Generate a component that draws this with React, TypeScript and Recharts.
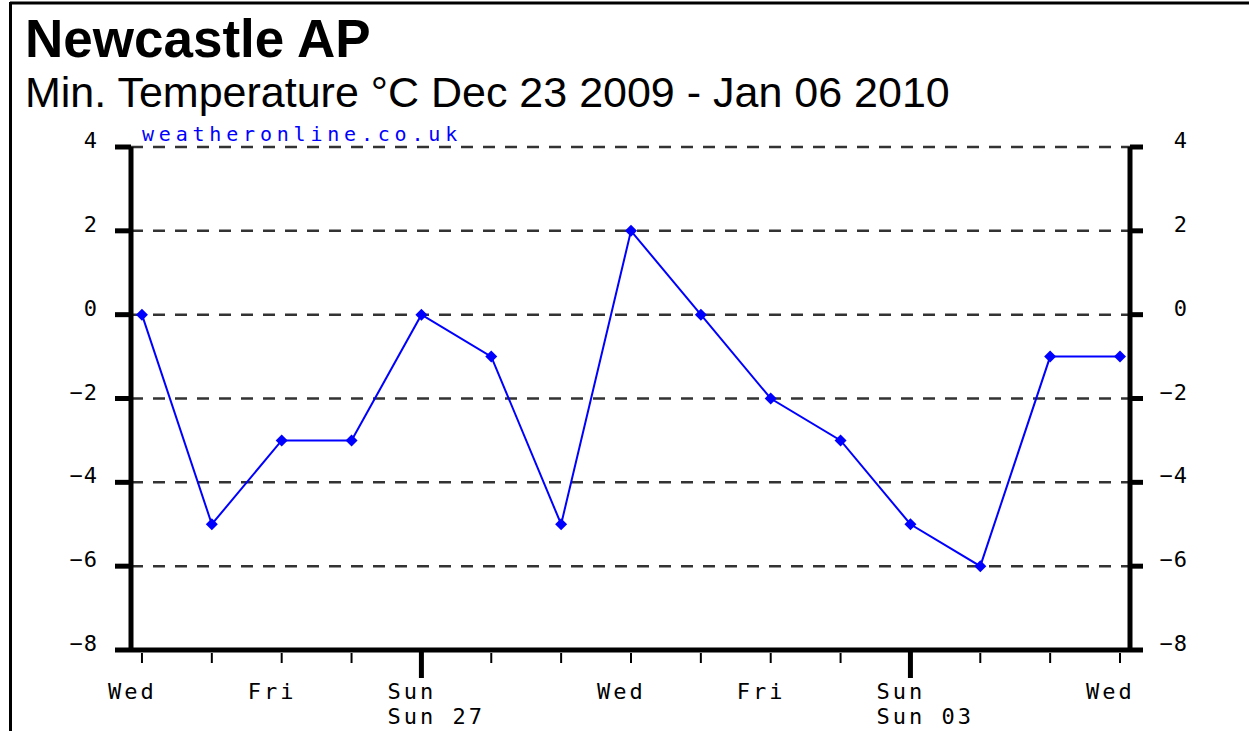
// App.tsx - Newcastle AP min temperature chart
import React from 'react';
import { LineChart, Line, XAxis, YAxis, CartesianGrid } from 'recharts';

// days since Wed Dec 23 2009
const dayNumbers = [0, 1, 2, 3, 4, 5, 6, 7, 8, 9, 10, 11, 12, 13, 14];
const minTemps = [0, -5, -3, -3, 0, -1, -5, 2, 0, -2, -3, -5, -6, -1, -1];

// x axis labels
const labelDays = [0, 2, 4, 7, 9, 11, 14];
const dayLabels = ['Wed', 'Fri', 'Sun', 'Wed', 'Fri', 'Sun', 'Wed'];
const weekDays = [4, 11];
const weekLabels = ['Sun 27', 'Sun 03'];

const tempTicks = [-8, -6, -4, -2, 0, 2, 4];

const data = dayNumbers.map((d, i) => ({ day: d, temp: minTemps[i] }));

const W = 1249;
const H = 731;
const MONO = '"DejaVu Sans Mono", monospace';
const SANS = '"Liberation Sans", Arial, sans-serif';

const fmt = (v: number) => (v < 0 ? `\u2212${-v}` : `${v}`);

// 날짜 tick: 짧은 눈금 + 일요일은 굵은 눈금
const DayTick = ({ x, y, payload }: any) => {
  const d = payload.value;
  const isWeek = weekDays.includes(d);
  const li = labelDays.indexOf(d);
  const wi = weekDays.indexOf(d);
  return (
    <g>
      {isWeek ? (
        <line x1={x} y1={y + 2} x2={x} y2={y + 28} stroke="#000" strokeWidth={5} />
      ) : (
        <line x1={x} y1={y + 3} x2={x} y2={y + 13} stroke="#000" strokeWidth={2} />
      )}
      {li >= 0 && (
        <text x={x - 34} y={y + 49} fontFamily={MONO} fontSize={22} letterSpacing={3} fill="#000">
          {dayLabels[li]}
        </text>
      )}
      {wi >= 0 && (
        <text x={x - 34} y={y + 74} fontFamily={MONO} fontSize={22} letterSpacing={3} fill="#000">
          {weekLabels[wi]}
        </text>
      )}
    </g>
  );
};

const TempTick = ({ x, y, payload }: any) => (
  <text x={x} y={y + 1} textAnchor="end" fontFamily={MONO} fontSize={22} letterSpacing={1} fill="#000">
    {fmt(payload.value)}
  </text>
);

const Diamond = (props: any) => {
  const { cx, cy, index } = props;
  const r = 6;
  return (
    <polygon
      key={`d-${index}`}
      points={`${cx},${cy - r} ${cx + r},${cy} ${cx},${cy + r} ${cx - r},${cy}`}
      fill="#0000ff"
    />
  );
};

export default function App() {
  return (
    <div style={{ position: 'absolute', left: 0, top: 0, width: W, height: H, background: '#fff' }}>
      <LineChart
        width={W}
        height={H}
        data={data}
        margin={{ top: 147, left: 130, right: 118, bottom: 80 }}
      >
        <CartesianGrid
          vertical={false}
          stroke="#333"
          strokeWidth={2.5}
          strokeDasharray="12 10"
          yAxisId="left"
        />
        <XAxis
          type="number"
          dataKey="day"
          domain={[-0.157, 14.143]}
          ticks={dayNumbers}
          interval={0}
          height={1}
          tickSize={0}
          tickMargin={0}
          tickLine={false}
          tick={<DayTick />}
          axisLine={{ stroke: '#000', strokeWidth: 5 }}
        />
        <YAxis
          yAxisId="left"
          type="number"
          domain={[-8, 4]}
          ticks={tempTicks}
          width={1}
          tickSize={16}
          tickMargin={17}
          tickLine={{ stroke: '#000', strokeWidth: 5 }}
          axisLine={{ stroke: '#000', strokeWidth: 5 }}
          tick={<TempTick />}
        />
        <YAxis
          yAxisId="right"
          orientation="right"
          type="number"
          domain={[-8, 4]}
          ticks={tempTicks}
          width={1}
          tickSize={13}
          tickMargin={45}
          tickLine={{ stroke: '#000', strokeWidth: 5 }}
          axisLine={{ stroke: '#000', strokeWidth: 5 }}
          tick={<TempTick />}
        />
        <Line
          yAxisId="right"
          dataKey="temp"
          stroke="none"
          dot={false}
          activeDot={false}
          isAnimationActive={false}
        />
        <Line
          yAxisId="left"
          type="linear"
          dataKey="temp"
          stroke="#0000ff"
          strokeWidth={2}
          dot={<Diamond />}
          activeDot={false}
          isAnimationActive={false}
        />
      </LineChart>
      <svg
        width={W}
        height={H}
        style={{ position: 'absolute', left: 0, top: 0, pointerEvents: 'none' }}
      >
        <line x1={10} y1={3} x2={W} y2={3} stroke="#000" strokeWidth={3} />
        <line x1={10.5} y1={2} x2={10.5} y2={H} stroke="#000" strokeWidth={3} />
        <text x={25} y={57} fontFamily={SANS} fontWeight="bold" fontSize={53} fill="#000">
          Newcastle AP
        </text>
        <text x={25} y={107} fontFamily={SANS} fontSize={43} fill="#000">
          Min. Temperature °C Dec 23 2009 - Jan 06 2010
        </text>
        <text x={142} y={141} fontFamily={MONO} fontSize={20} letterSpacing={4.8} fill="#0000ff">
          weatheronline.co.uk
        </text>
      </svg>
    </div>
  );
}
